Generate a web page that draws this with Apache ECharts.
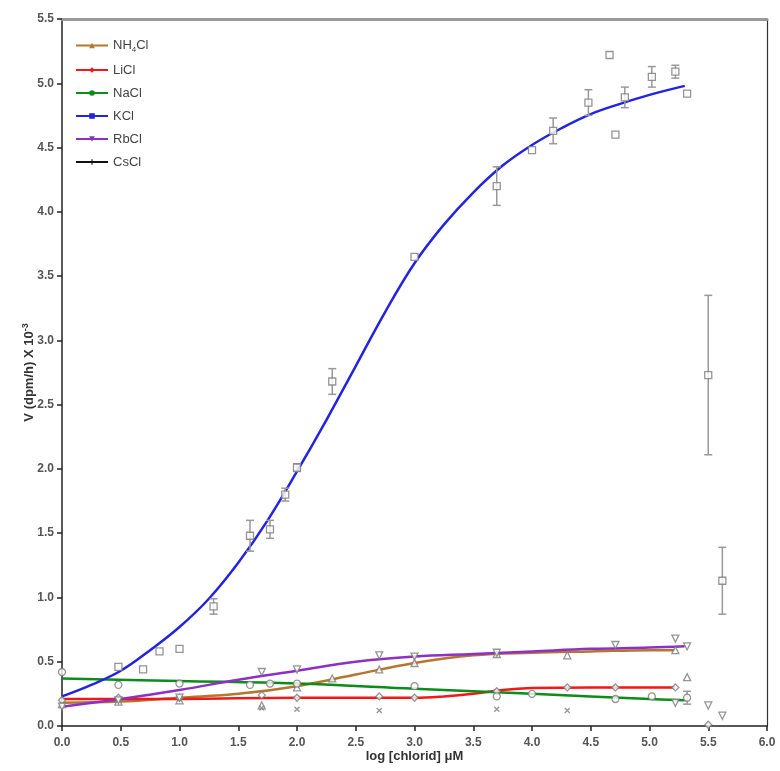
<!DOCTYPE html>
<html>
<head>
<meta charset="utf-8">
<script src="https://cdn.jsdelivr.net/npm/echarts@6/dist/echarts.min.js"></script>
<style>
html, body { margin: 0; padding: 0; background: #fff; }
#main { width: 780px; height: 771px; }
</style>
</head>
<body>
<div id="main"></div>
<script>
// salts, legend order
var salts = ["NH4Cl", "LiCl", "NaCl", "KCl", "RbCl", "CsCl"];
var lineColors = ["#B5762E", "#F01818", "#0C8C1A", "#2424E0", "#8E30C4", "#111111"];
var legendSymbols = ["triangle", "diamond", "circle", "rect", "path://M0,0L10,0L5,10Z", "path://M0,4L10,4L10,6L0,6ZM4,0L6,0L6,10L4,10Z"];

// fitted curves [log chlorid, V]
var fitNH4 = [[0, 0.18], [0.5, 0.19], [1.0, 0.22], [1.5, 0.25], [2.0, 0.31], [2.5, 0.40], [3.0, 0.49], [3.5, 0.55], [4.0, 0.57], [4.5, 0.58], [5.0, 0.59], [5.22, 0.59]];
var fitLi = [[0, 0.21], [1.0, 0.21], [2.0, 0.22], [3.0, 0.22], [3.25, 0.23], [3.5, 0.25], [3.75, 0.28], [4.0, 0.295], [4.5, 0.30], [5.22, 0.30]];
var fitNa = [[0, 0.37], [1.0, 0.35], [2.0, 0.33], [3.0, 0.29], [4.0, 0.25], [5.0, 0.21], [5.3, 0.20]];
var fitK = [[0, 0.23], [0.25, 0.32], [0.5, 0.43], [0.75, 0.59], [1.0, 0.77], [1.25, 0.99], [1.5, 1.27], [1.75, 1.6], [2.0, 1.98], [2.25, 2.38], [2.5, 2.8], [2.75, 3.22], [3.0, 3.6], [3.25, 3.9], [3.5, 4.15], [3.75, 4.36], [4.0, 4.52], [4.25, 4.65], [4.5, 4.76], [4.75, 4.84], [5.0, 4.91], [5.3, 4.98]];
var fitRb = [[0, 0.15], [0.5, 0.21], [1.0, 0.28], [1.5, 0.36], [2.0, 0.43], [2.5, 0.50], [3.0, 0.54], [3.5, 0.56], [4.0, 0.58], [4.5, 0.60], [5.0, 0.61], [5.3, 0.62]];
var fitCs = [];

// measured points [x, y, error]
var ptsNH4 = [[0, 0.17, 0], [0.48, 0.19, 0], [1.0, 0.2, 0], [1.7, 0.16, 0], [2.0, 0.3, 0], [2.3, 0.37, 0], [2.7, 0.44, 0], [3.0, 0.49, 0], [3.7, 0.56, 0], [4.3, 0.55, 0], [5.22, 0.59, 0], [5.32, 0.38, 0]];
var ptsLi = [[0, 0.2, 0], [0.48, 0.22, 0], [1.0, 0.22, 0], [1.7, 0.24, 0], [2.0, 0.22, 0], [2.7, 0.23, 0], [3.0, 0.22, 0], [3.7, 0.27, 0], [4.3, 0.3, 0], [4.71, 0.3, 0], [5.22, 0.3, 0], [5.5, 0.01, 0]];
var ptsNa = [[0, 0.42, 0], [0.48, 0.32, 0], [1.0, 0.33, 0], [1.6, 0.32, 0], [1.77, 0.33, 0], [2.0, 0.33, 0], [3.0, 0.31, 0], [3.7, 0.23, 0], [4.0, 0.25, 0], [4.71, 0.21, 0], [5.02, 0.23, 0], [5.32, 0.22, 0.05]];
var ptsK = [[0.48, 0.46, 0], [0.69, 0.44, 0], [0.83, 0.58, 0], [1.0, 0.6, 0], [1.29, 0.93, 0.06], [1.6, 1.48, 0.12], [1.77, 1.53, 0.07], [1.9, 1.8, 0.05], [2.0, 2.01, 0.03], [2.3, 2.68, 0.1], [3.0, 3.65, 0], [3.7, 4.2, 0.15], [4.0, 4.48, 0], [4.18, 4.63, 0.1], [4.48, 4.85, 0.1], [4.66, 5.22, 0], [4.71, 4.6, 0], [4.79, 4.89, 0.08], [5.02, 5.05, 0.08], [5.22, 5.09, 0.05], [5.32, 4.92, 0], [5.5, 2.73, 0.62], [5.62, 1.13, 0.26]];
var ptsRb = [[0, 0.15, 0], [0.48, 0.2, 0], [1.0, 0.22, 0], [1.7, 0.42, 0], [2.0, 0.44, 0], [2.7, 0.55, 0], [3.0, 0.54, 0], [3.7, 0.57, 0], [4.71, 0.63, 0], [5.22, 0.68, 0], [5.32, 0.62, 0], [5.22, 0.18, 0], [5.5, 0.16, 0], [5.62, 0.08, 0]];
var ptsCs = [[1.7, 0.14, 0], [2.0, 0.13, 0], [2.7, 0.12, 0], [3.7, 0.13, 0], [4.3, 0.12, 0]];

var xTicks = [0, 0.5, 1, 1.5, 2, 2.5, 3, 3.5, 4, 4.5, 5, 5.5, 6];
var yTicks = [0, 0.5, 1, 1.5, 2, 2.5, 3, 3.5, 4, 4.5, 5, 5.5];

var fits = [fitNH4, fitLi, fitNa, fitK, fitRb, fitCs];
var pts = [ptsNH4, ptsLi, ptsNa, ptsK, ptsRb, ptsCs];
var ptSymbols = ["triangle", "diamond", "circle", "rect", "path://M0,0L10,0L5,10Z", "path://M0,0L10,10M10,0L0,10"];

var grey = "#7a7a7a";
var font = "Liberation Sans, Arial, sans-serif";

var series = [];
// fitted lines (legend items)
for (var i = 0; i < salts.length; i++) {
	series.push({
		name: salts[i],
		type: "line",
		smooth: 0.4,
		showSymbol: false,
		symbol: legendSymbols[i],
		symbolSize: 6,
		data: fits[i],
		lineStyle: { color: lineColors[i], width: 2.5 },
		itemStyle: { color: lineColors[i] },
		z: 2
	});
}
// error bars
var errData = [];
pts.forEach(function (p) {
	p.forEach(function (d) { if (d[2] > 0) errData.push(d); });
});
series.push({
	type: "custom",
	data: errData,
	z: 3,
	renderItem: function (params, api) {
		var x = api.value(0), y = api.value(1), e = api.value(2);
		var top = api.coord([x, y + e]);
		var bot = api.coord([x, y - e]);
		var c = 4;
		var st = { stroke: "#999", lineWidth: 1.5 };
		return {
			type: "group",
			children: [
				{ type: "line", shape: { x1: top[0], y1: top[1], x2: bot[0], y2: bot[1] }, style: st },
				{ type: "line", shape: { x1: top[0] - c, y1: top[1], x2: top[0] + c, y2: top[1] }, style: st },
				{ type: "line", shape: { x1: bot[0] - c, y1: bot[1], x2: bot[0] + c, y2: bot[1] }, style: st }
			]
		};
	}
});
// measured points
for (var j = 0; j < pts.length; j++) {
	series.push({
		type: "scatter",
		symbol: ptSymbols[j],
		symbolSize: j === 5 ? 5 : 7,
		data: pts[j],
		z: 4,
		itemStyle: { color: "#fff", borderColor: grey, borderWidth: 1.3 }
	});
}

var chart = echarts.init(document.getElementById("main"));
var option = {
	animation: false,
	backgroundColor: "#fff",
	grid: { left: 62, right: 13, top: 19, bottom: 45 },
	legend: {
		data: salts,
		orient: "vertical",
		left: 70,
		top: 34,
		itemWidth: 32,
		itemHeight: 7,
		itemGap: 10,
		textStyle: {
			fontFamily: font,
			fontSize: 13,
			color: "#444",
			rich: {
				n: { fontFamily: font, fontSize: 13, color: "#444" },
				s: { fontFamily: font, fontSize: 8, color: "#444", verticalAlign: "bottom", padding: [8, 0, 0, 0] }
			}
		},
		formatter: function (name) {
			if (name === "NH4Cl") return "{n|NH}{s|4}{n|Cl}";
			return "{n|" + name + "}";
		}
	},
	xAxis: [{
		type: "value",
		min: 0,
		max: 6,
		interval: 0.5,
		name: "log [chlorid] μM",
		nameLocation: "middle",
		nameGap: 24,
		nameMoveOverlap: false,
		nameTextStyle: { fontFamily: font, fontSize: 13, fontWeight: "bold", color: "#333" },
		axisLine: { lineStyle: { color: "#222", width: 1.5 } },
		axisTick: { length: 5, lineStyle: { color: "#222", width: 1.5 } },
		axisLabel: {
			fontFamily: font, fontSize: 12, fontWeight: "bold", color: "#555", margin: 11,
			formatter: function (v) { return xTicks.indexOf(v) >= 0 ? v.toFixed(1) : ""; }
		},
		splitLine: { show: false }
	}, {
		type: "value",
		position: "top",
		min: 0,
		max: 6,
		axisLine: { show: true, onZero: false, lineStyle: { color: "#999", width: 3 } },
		axisTick: { show: false },
		axisLabel: { show: false },
		splitLine: { show: false }
	}],
	yAxis: [{
		type: "value",
		min: 0,
		max: 5.5,
		interval: 0.5,
		name: "V (dpm/h) X 10{sup|-3}",
		nameLocation: "middle",
		nameRotate: 90,
		nameGap: 24,
		nameMoveOverlap: false,
		nameTextStyle: {
			fontFamily: font, fontSize: 13, fontWeight: "bold", color: "#333",
			rich: { sup: { fontFamily: font, fontSize: 9, fontWeight: "bold", color: "#333", verticalAlign: "top", padding: [0, 0, 8, 0] } }
		},
		axisLine: { show: true, lineStyle: { color: "#222", width: 1.5 } },
		axisTick: { show: true, length: 5, lineStyle: { color: "#222", width: 1.5 } },
		axisLabel: {
			fontFamily: font, fontSize: 12, fontWeight: "bold", color: "#555", margin: 8,
			formatter: function (v) { return yTicks.indexOf(v) >= 0 ? v.toFixed(1) : ""; }
		},
		splitLine: { show: false }
	}, {
		type: "value",
		position: "right",
		min: 0,
		max: 5.5,
		axisLine: { show: true, onZero: false, lineStyle: { color: "#333", width: 1.2 } },
		axisTick: { show: false },
		axisLabel: { show: false },
		splitLine: { show: false }
	}],
	series: series
};
chart.setOption(option);
window.addEventListener("resize", chart.resize);
</script>
</body>
</html>
